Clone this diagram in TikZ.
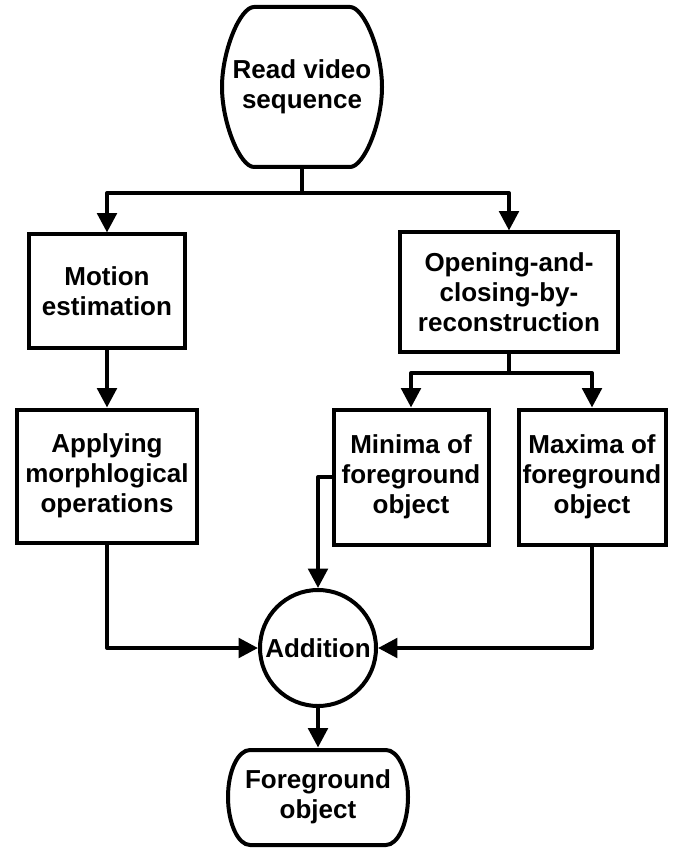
\documentclass[tikz,border=0pt]{standalone}
\usepackage{fontspec}
\setmainfont{Liberation Sans}
\usetikzlibrary{arrows.meta}

\begin{document}
\begin{tikzpicture}[x=0.75pt,y=-0.75pt,
    blockbox/.style={draw, line width=3pt, align=center, inner sep=0pt,
      font=\bfseries\fontsize{19.5}{22.5}\selectfont},
    termtext/.style={blockbox, draw=none},
    flow/.style={line width=3pt, line join=round, -{Triangle[length=14.5pt,width=14.5pt]}},
    link/.style={line width=3pt, line join=round}]
  \useasboundingbox (0,0) rectangle (673,848);

  % start and end
  \node[termtext, minimum width=119.25pt, minimum height=120pt] (read) at (302,87) {Read video\\sequence};
  \node[termtext, minimum width=135.75pt, minimum height=71.25pt] (fg) at (318,797) {Foreground\\object};
  % their rounded outlines
  \draw[link] (254,7) -- (350,7) .. controls (364,7) and (382,51) .. (382,87)
    .. controls (382,123) and (364,167) .. (350,167) -- (254,167)
    .. controls (240,167) and (222,123) .. (222,87)
    .. controls (222,51) and (240,7) .. (254,7) -- cycle;
  \draw[link] (250,750) -- (386,750) .. controls (398,750) and (408,771) .. (408,797)
    .. controls (408,823) and (398,845) .. (386,845) -- (250,845)
    .. controls (238,845) and (228,823) .. (228,797)
    .. controls (228,771) and (238,750) .. (250,750) -- cycle;

  % left branch
  \node[blockbox, minimum width=117pt, minimum height=84.75pt] (motion) at (107,291) {Motion\\estimation};
  \node[blockbox, minimum width=135pt, minimum height=99.75pt] (apply) at (107,476) {Applying\\morphlogical\\operations};

  % right branch
  \node[blockbox, minimum width=163.5pt, minimum height=89.25pt] (open) at (509,292) {Opening-and-\\closing-by-\\reconstruction};
  \node[blockbox, minimum width=116.25pt, minimum height=101.25pt] (minima) at (411,477) {Minima of\\foreground\\object};
  \node[blockbox, minimum width=110.25pt, minimum height=101.25pt] (maxima) at (592,477) {Maxima of\\foreground\\object};

  % the sum
  \node[blockbox, circle, minimum size=87pt] (add) at (318,648) {Addition};

  % splits
  \coordinate (fork) at (302,193);
  \coordinate (forkopen) at (509,373);

  \draw[link] (read.south) -- (fork);
  \draw[flow] (fork) -| (motion.north);
  \draw[flow] (fork) -| (open.north);
  \draw[flow] (motion.south) -- (apply.north);

  \draw[link] (open.south) -- (forkopen);
  \draw[flow] (forkopen) -| (minima.north);
  \draw[flow] (forkopen) -| (maxima.north);

  \draw[flow] (apply.south) |- (add.west);
  \draw[flow] (maxima.south) |- (add.east);
  \draw[flow] (minima.west) -| (add.north);
  \draw[flow] (add.south) -- (fg.north);
\end{tikzpicture}
\end{document}
